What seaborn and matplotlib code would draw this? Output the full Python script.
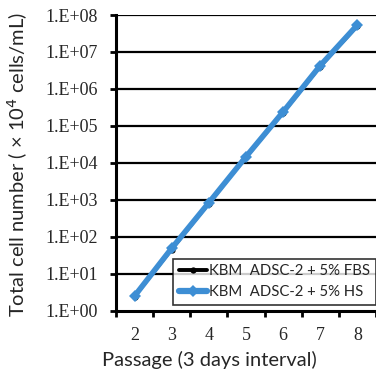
import matplotlib
matplotlib.use("Agg")
import matplotlib.pyplot as plt
from matplotlib.ticker import FixedLocator, NullFormatter
import seaborn as sns
import pandas as pd

passages = [2, 3, 4, 5, 6, 7, 8]
fbs_counts = [2.4, 45, 790, 14000, 2.25e5, 4.0e6, 5.0e7]
hs_counts = [2.5, 49, 835, 14700, 2.4e5, 4.3e6, 5.4e7]
ytick_values = [1e0, 1e1, 1e2, 1e3, 1e4, 1e5, 1e6, 1e7, 1e8]
ytick_labels = ["1.E+00", "1.E+01", "1.E+02", "1.E+03", "1.E+04",
                "1.E+05", "1.E+06", "1.E+07", "1.E+08"]
series_names = ["KBM  ADSC-2 + 5% FBS", "KBM  ADSC-2 + 5% HS"]

df = pd.DataFrame({
    "pos": list(range(len(passages))) * 2,
    "count": fbs_counts + hs_counts,
    "medium": [series_names[0]] * len(passages) + [series_names[1]] * len(passages),
})

sns.set_theme(style="white")
plt.rcParams["font.family"] = ["Lato", "DejaVu Sans"]

fig = plt.figure(figsize=(3.76, 3.74), dpi=100)
ax = fig.add_axes([116 / 376, (374 - 310.7) / 374, 260 / 376, (310.7 - 15) / 374])
ax.set_yscale("log")

palette = {series_names[0]: "black", series_names[1]: "#3d8ed4"}
sns.lineplot(data=df[df.medium == series_names[0]], x="pos", y="count",
             color=palette[series_names[0]], lw=2.2, marker="o", markersize=4.5,
             markeredgewidth=0, ax=ax, label=series_names[0], zorder=3)
sns.lineplot(data=df[df.medium == series_names[1]], x="pos", y="count",
             color=palette[series_names[1]], lw=4.0, marker="D", markersize=6,
             markeredgewidth=0, ax=ax, label=series_names[1], zorder=4)

ax.set_xlim(-0.5, len(passages) - 0.5)
ax.set_ylim(1, 1e8)

# horizontal gridlines at each decade
for v in ytick_values[1:]:
    ax.axhline(v, color="black", lw=1.6, zorder=1)

ax.set_yticks(ytick_values)
ax.set_yticklabels(ytick_labels, family="Liberation Serif", fontsize=13)
ax.yaxis.set_minor_locator(FixedLocator([]))
ax.tick_params(axis="y", which="major", direction="out", length=4, width=2,
               color="black", left=True, pad=9)

ax.set_xticks(range(len(passages)))
ax.set_xticklabels([str(p) for p in passages], family="Liberation Serif", fontsize=13)
ax.tick_params(axis="x", which="major", length=0, pad=12)
ax.xaxis.set_minor_locator(FixedLocator([i + 0.5 for i in range(-1, len(passages))]))
ax.xaxis.set_minor_formatter(NullFormatter())
ax.tick_params(axis="x", which="minor", direction="out", length=4, width=2,
               color="black", bottom=True)

for side in ["top", "right"]:
    ax.spines[side].set_visible(False)
for side in ["left", "bottom"]:
    ax.spines[side].set_color("black")
    ax.spines[side].set_linewidth(2.2)
    ax.spines[side].set_zorder(5)

ax.set_xlabel("Passage (3 days interval)", fontsize=14.5, va="center")
ax.xaxis.set_label_coords(0.358, -0.167)
ax.set_ylabel("Total cell number ( \u00d7 10$^{4}$ cells/mL)", fontsize=14.5, va="center")
ax.yaxis.set_label_coords(-0.377, 0.496)

leg = ax.legend(loc="lower right", bbox_to_anchor=(1.0, 0.019), frameon=True,
                fancybox=False, fontsize=10.7, handlelength=1.9, handletextpad=0.15,
                borderpad=0.4, labelspacing=0.45, borderaxespad=0)
leg.get_frame().set_edgecolor("black")
leg.get_frame().set_linewidth(1.2)
leg.set_zorder(6)
leg_lines = leg.get_lines()
leg_lines[0].set_linewidth(2.8)
leg_lines[1].set_linewidth(4.5)

fig.savefig("out.png", dpi=100)
